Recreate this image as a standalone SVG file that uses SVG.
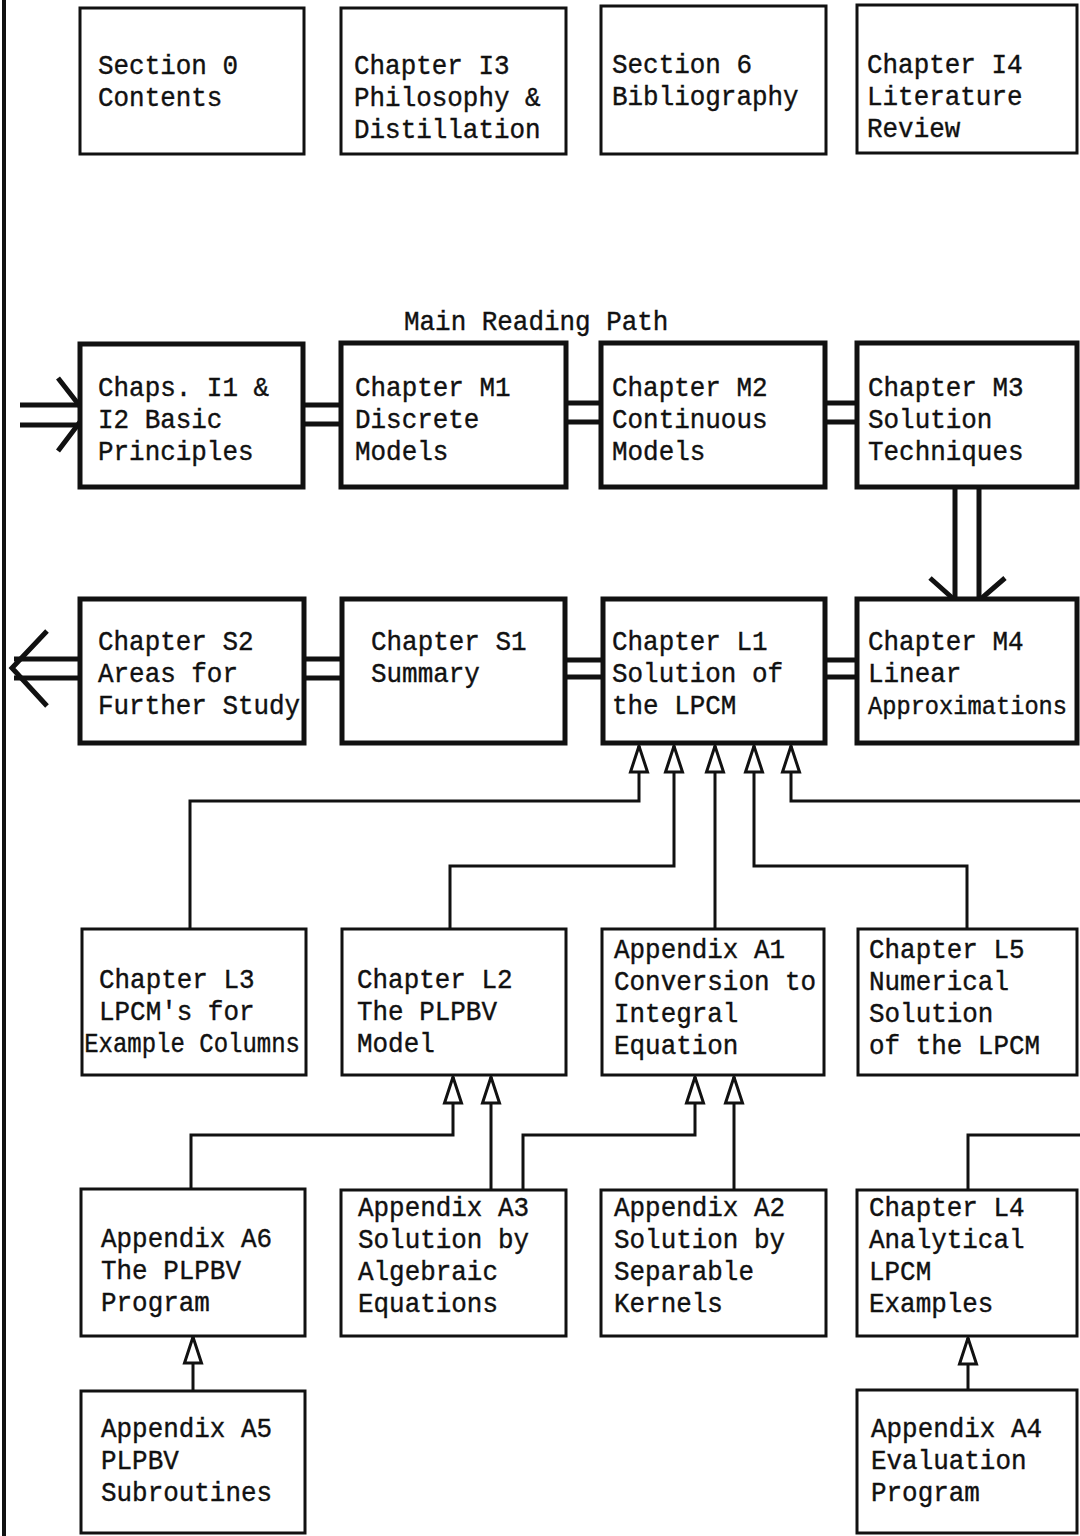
<svg xmlns="http://www.w3.org/2000/svg" width="1080" height="1536" viewBox="0 0 1080 1536">
<style>
.bx{fill:#fff;stroke:#111;stroke-width:3}
.bk{fill:#fff;stroke:#111;stroke-width:5}
.t{font-family:"Liberation Mono","Courier New",monospace;font-size:28px;fill:#111;stroke:#111;stroke-width:0.4}
.c{fill:none;stroke:#111;stroke-width:3;stroke-linejoin:miter}
.d{fill:none;stroke:#111;stroke-width:5;stroke-linecap:butt;stroke-linejoin:miter}
</style>
<defs>
<marker id="tri" markerUnits="userSpaceOnUse" orient="auto" viewBox="0 0 30 20" markerWidth="30" markerHeight="20" refX="28" refY="10" overflow="visible">
<path d="M28,10 L2,1.5 L2,18.5 Z" fill="#fff" stroke="#111" stroke-width="3"/>
</marker>
</defs>
<rect width="1080" height="1536" fill="#fff"/>
<line x1="4" y1="0" x2="4" y2="1536" stroke="#111" stroke-width="4"/>

<g id="connectors">
<line class="d" x1="20" y1="405" x2="84" y2="405"/>
<line class="d" x1="20" y1="425" x2="84" y2="425"/>
<polyline class="d" points="58,378 86,414 58,451"/>
<line class="d" x1="303" y1="405" x2="341" y2="405"/>
<line class="d" x1="303" y1="424" x2="341" y2="424"/>
<line class="d" x1="566" y1="403" x2="601" y2="403"/>
<line class="d" x1="566" y1="422" x2="601" y2="422"/>
<line class="d" x1="825" y1="403" x2="857" y2="403"/>
<line class="d" x1="825" y1="422" x2="857" y2="422"/>
<line class="d" x1="955" y1="487" x2="955" y2="602"/>
<line class="d" x1="979" y1="487" x2="979" y2="602"/>
<polyline class="d" points="930,578 967,611 1005,578"/>
<line class="d" x1="14" y1="659" x2="80" y2="659"/>
<line class="d" x1="14" y1="678" x2="80" y2="678"/>
<polyline class="d" points="47,631 12,668 47,706"/>
<line class="d" x1="304" y1="659" x2="342" y2="659"/>
<line class="d" x1="304" y1="678" x2="342" y2="678"/>
<line class="d" x1="565" y1="660" x2="603" y2="660"/>
<line class="d" x1="565" y1="677" x2="603" y2="677"/>
<line class="d" x1="825" y1="660" x2="857" y2="660"/>
<line class="d" x1="825" y1="677" x2="857" y2="677"/>
<polyline class="c" points="190,929 190,801 639,801 639,746" marker-end="url(#tri)"/>
<polyline class="c" points="450,929 450,866 674,866 674,746" marker-end="url(#tri)"/>
<polyline class="c" points="715,929 715,746" marker-end="url(#tri)"/>
<polyline class="c" points="967,929 967,866 754,866 754,746" marker-end="url(#tri)"/>
<polyline class="c" points="1082,801 791,801 791,746" marker-end="url(#tri)"/>
<polyline class="c" points="191,1189 191,1135 453,1135 453,1077" marker-end="url(#tri)"/>
<polyline class="c" points="491,1190 491,1077" marker-end="url(#tri)"/>
<polyline class="c" points="523,1190 523,1135 695,1135 695,1077" marker-end="url(#tri)"/>
<polyline class="c" points="734,1190 734,1077" marker-end="url(#tri)"/>
<polyline class="c" points="968,1190 968,1135 1082,1135"/>
<polyline class="c" points="193,1391 193,1337" marker-end="url(#tri)"/>
<polyline class="c" points="968,1390 968,1338" marker-end="url(#tri)"/>
</g>

<text class="t" transform="translate(404,330) scale(0.926,1)">Main Reading Path</text>

<g id="section0">
<rect class="bx" x="80" y="8" width="224" height="146"/>
<text class="t" transform="translate(98,74) scale(0.926,1)"><tspan x="0" y="0">Section 0</tspan><tspan x="0" y="32">Contents</tspan></text>
</g>
<g id="chapterI3">
<rect class="bx" x="341" y="8" width="225" height="146"/>
<text class="t" transform="translate(354,74) scale(0.926,1)"><tspan x="0" y="0">Chapter I3</tspan><tspan x="0" y="32">Philosophy &amp;</tspan><tspan x="0" y="64">Distillation</tspan></text>
</g>
<g id="section6">
<rect class="bx" x="601" y="6" width="225" height="148"/>
<text class="t" transform="translate(612,73) scale(0.926,1)"><tspan x="0" y="0">Section 6</tspan><tspan x="0" y="32">Bibliography</tspan></text>
</g>
<g id="chapterI4">
<rect class="bx" x="857" y="5" width="220" height="148"/>
<text class="t" transform="translate(867,73) scale(0.926,1)"><tspan x="0" y="0">Chapter I4</tspan><tspan x="0" y="32">Literature</tspan><tspan x="0" y="64">Review</tspan></text>
</g>

<g id="chapsI1I2">
<rect class="bk" x="80" y="344" width="223" height="143"/>
<text class="t" transform="translate(98,396) scale(0.926,1)"><tspan x="0" y="0">Chaps. I1 &amp;</tspan><tspan x="0" y="32">I2 Basic</tspan><tspan x="0" y="64">Principles</tspan></text>
</g>
<g id="chapterM1">
<rect class="bk" x="341" y="343" width="225" height="144"/>
<text class="t" transform="translate(355,396) scale(0.926,1)"><tspan x="0" y="0">Chapter M1</tspan><tspan x="0" y="32">Discrete</tspan><tspan x="0" y="64">Models</tspan></text>
</g>
<g id="chapterM2">
<rect class="bk" x="601" y="343" width="224" height="144"/>
<text class="t" transform="translate(612,396) scale(0.926,1)"><tspan x="0" y="0">Chapter M2</tspan><tspan x="0" y="32">Continuous</tspan><tspan x="0" y="64">Models</tspan></text>
</g>
<g id="chapterM3">
<rect class="bk" x="857" y="343" width="220" height="144"/>
<text class="t" transform="translate(868,396) scale(0.926,1)"><tspan x="0" y="0">Chapter M3</tspan><tspan x="0" y="32">Solution</tspan><tspan x="0" y="64">Techniques</tspan></text>
</g>

<g id="chapterS2">
<rect class="bk" x="80" y="599" width="224" height="144"/>
<text class="t" transform="translate(98,650) scale(0.926,1)"><tspan x="0" y="0">Chapter S2</tspan><tspan x="0" y="32">Areas for</tspan><tspan x="0" y="64">Further Study</tspan></text>
</g>
<g id="chapterS1">
<rect class="bk" x="342" y="599" width="223" height="144"/>
<text class="t" transform="translate(371,650) scale(0.926,1)"><tspan x="0" y="0">Chapter S1</tspan><tspan x="0" y="32">Summary</tspan></text>
</g>
<g id="chapterL1">
<rect class="bk" x="603" y="599" width="222" height="144"/>
<text class="t" transform="translate(612,650) scale(0.926,1)"><tspan x="0" y="0">Chapter L1</tspan><tspan x="0" y="32">Solution of</tspan><tspan x="0" y="64">the LPCM</tspan></text>
</g>
<g id="chapterM4">
<rect class="bk" x="857" y="599" width="220" height="144"/>
<text class="t" transform="translate(868,650) scale(0.926,1)"><tspan x="0" y="0">Chapter M4</tspan><tspan x="0" y="32">Linear</tspan><tspan x="0" y="64" font-size="25.6">Approximations</tspan></text>
</g>

<g id="chapterL3">
<rect class="bx" x="82" y="929" width="224" height="146"/>
<text class="t" transform="translate(99,988) scale(0.926,1)"><tspan x="0" y="0">Chapter L3</tspan><tspan x="0" y="32">LPCM's for</tspan><tspan x="-16" y="64" textLength="233" lengthAdjust="spacingAndGlyphs">Example Columns</tspan></text>
</g>
<g id="chapterL2">
<rect class="bx" x="342" y="929" width="224" height="146"/>
<text class="t" transform="translate(357,988) scale(0.926,1)"><tspan x="0" y="0">Chapter L2</tspan><tspan x="0" y="32">The PLPBV</tspan><tspan x="0" y="64">Model</tspan></text>
</g>
<g id="appendixA1">
<rect class="bx" x="602" y="929" width="222" height="146"/>
<text class="t" transform="translate(614,958) scale(0.926,1)"><tspan x="0" y="0">Appendix A1</tspan><tspan x="0" y="32">Conversion to</tspan><tspan x="0" y="64">Integral</tspan><tspan x="0" y="96">Equation</tspan></text>
</g>
<g id="chapterL5">
<rect class="bx" x="858" y="929" width="219" height="146"/>
<text class="t" transform="translate(869,958) scale(0.926,1)"><tspan x="0" y="0">Chapter L5</tspan><tspan x="0" y="32">Numerical</tspan><tspan x="0" y="64">Solution</tspan><tspan x="0" y="96">of the LPCM</tspan></text>
</g>

<g id="appendixA6">
<rect class="bx" x="81" y="1189" width="224" height="147"/>
<text class="t" transform="translate(101,1247) scale(0.926,1)"><tspan x="0" y="0">Appendix A6</tspan><tspan x="0" y="32">The PLPBV</tspan><tspan x="0" y="64">Program</tspan></text>
</g>
<g id="appendixA3">
<rect class="bx" x="341" y="1190" width="225" height="146"/>
<text class="t" transform="translate(358,1216) scale(0.926,1)"><tspan x="0" y="0">Appendix A3</tspan><tspan x="0" y="32">Solution by</tspan><tspan x="0" y="64">Algebraic</tspan><tspan x="0" y="96">Equations</tspan></text>
</g>
<g id="appendixA2">
<rect class="bx" x="601" y="1190" width="225" height="146"/>
<text class="t" transform="translate(614,1216) scale(0.926,1)"><tspan x="0" y="0">Appendix A2</tspan><tspan x="0" y="32">Solution by</tspan><tspan x="0" y="64">Separable</tspan><tspan x="0" y="96">Kernels</tspan></text>
</g>
<g id="chapterL4">
<rect class="bx" x="857" y="1190" width="220" height="146"/>
<text class="t" transform="translate(869,1216) scale(0.926,1)"><tspan x="0" y="0">Chapter L4</tspan><tspan x="0" y="32">Analytical</tspan><tspan x="0" y="64">LPCM</tspan><tspan x="0" y="96">Examples</tspan></text>
</g>

<g id="appendixA5">
<rect class="bx" x="81" y="1391" width="224" height="142"/>
<text class="t" transform="translate(101,1437) scale(0.926,1)"><tspan x="0" y="0">Appendix A5</tspan><tspan x="0" y="32">PLPBV</tspan><tspan x="0" y="64">Subroutines</tspan></text>
</g>
<g id="appendixA4">
<rect class="bx" x="857" y="1390" width="220" height="143"/>
<text class="t" transform="translate(871,1437) scale(0.926,1)"><tspan x="0" y="0">Appendix A4</tspan><tspan x="0" y="32">Evaluation</tspan><tspan x="0" y="64">Program</tspan></text>
</g>
</svg>
